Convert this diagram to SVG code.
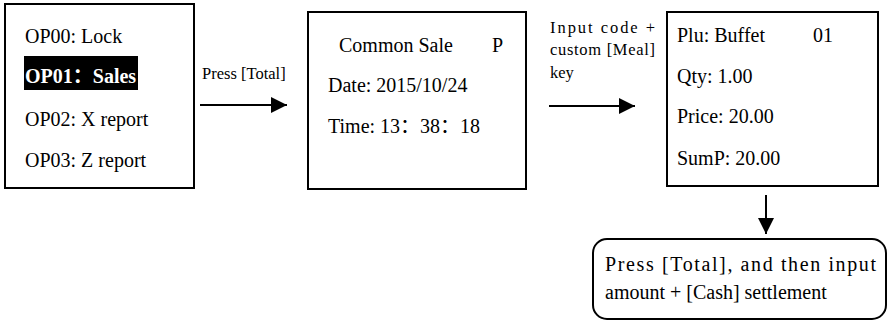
<svg xmlns="http://www.w3.org/2000/svg" width="888" height="323" viewBox="0 0 888 323">
<style>
.box{fill:#fff;stroke:#000;stroke-width:2}
.t{font-size:20px}
.s{font-size:16.5px}
.ln{stroke:#000;stroke-width:2;fill:none}
</style>
<defs>
<marker id="ah" viewBox="0 0 16 16" refX="16" refY="8" markerWidth="16" markerHeight="16" markerUnits="userSpaceOnUse" orient="auto">
<path d="M0,0 L16,8 L0,16 Z" fill="#000"/>
</marker>
</defs>
<rect width="888" height="323" fill="#fff"/>
<g font-family="'Liberation Serif', 'Noto Sans CJK SC', serif" fill="#000">
<g id="menu">
<rect class="box" x="5" y="4" width="189" height="184"/>
<text class="t" x="25" y="43">OP00: Lock</text>
<rect x="24" y="56" width="114" height="34" fill="#000"/>
<text class="t" x="25" y="83" fill="#fff" font-weight="bold">OP01：Sales</text>
<text class="t" x="25" y="126">OP02: X report</text>
<text class="t" x="25" y="167">OP03: Z report</text>
</g>
<g id="common-sale">
<rect class="box" x="308" y="12" width="218" height="177"/>
<text class="t" x="339" y="52">Common Sale</text>
<text class="t" x="492" y="52">P</text>
<text class="t" x="328" y="92">Date: 2015/10/24</text>
<text class="t" x="328" y="133">Time: 13：38：18</text>
</g>
<g id="plu">
<rect class="box" x="667" y="12" width="211" height="174"/>
<text class="t" x="677" y="42">Plu: Buffet</text>
<text class="t" x="813" y="42">01</text>
<text class="t" x="677" y="83">Qty: 1.00</text>
<text class="t" x="677" y="123">Price: 20.00</text>
<text class="t" x="677" y="165">SumP: 20.00</text>
</g>
<g id="settle">
<rect class="box" x="593" y="239" width="293" height="80" rx="14" ry="14"/>
<text class="t" x="605" y="271" textLength="271" lengthAdjust="spacing">Press [Total], and then input</text>
<text class="t" x="605" y="299">amount + [Cash] settlement</text>
</g>
<g id="connectors">
<line class="ln" x1="200" y1="105" x2="287" y2="105" marker-end="url(#ah)"/>
<text class="s" x="202" y="79">Press [Total]</text>
<line class="ln" x1="549" y1="106" x2="635" y2="106" marker-end="url(#ah)"/>
<text class="s" x="550" y="33" textLength="105" lengthAdjust="spacing">Input code +</text>
<text class="s" x="550" y="55" textLength="105" lengthAdjust="spacing">custom [Meal]</text>
<text class="s" x="550" y="78">key</text>
<line class="ln" x1="766" y1="195" x2="766" y2="234" marker-end="url(#ah)"/>
</g>
</g>
</svg>
